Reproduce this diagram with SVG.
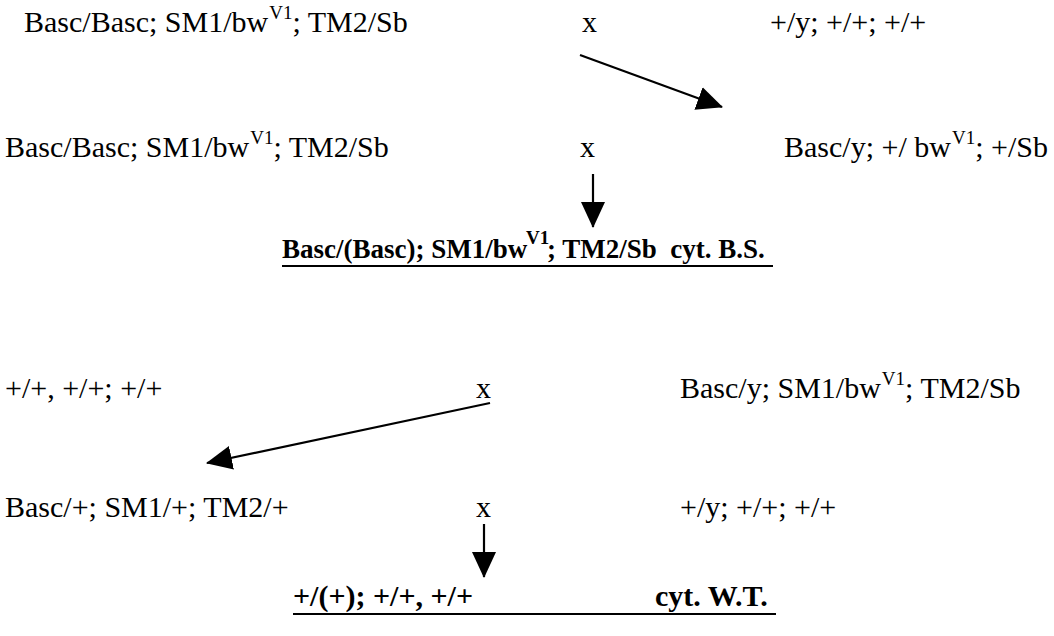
<svg xmlns="http://www.w3.org/2000/svg" width="1054" height="636" viewBox="0 0 1054 636">
  <style>
    text { font-family: "Liberation Serif", "Times New Roman", serif; font-size: 30px; fill: #000; white-space: pre; }
    .b { font-weight: bold; }
    .sup { font-size: 19px; }
    .bs { font-size: 27px; }
    .conn { stroke: #000; stroke-width: 2.2; fill: none; }
    .rule { stroke: #000; stroke-width: 2; }
  </style>
  <defs>
    <marker id="headBig" viewBox="0 0 26 24" markerWidth="26" markerHeight="24" refX="25" refY="12" orient="auto" markerUnits="userSpaceOnUse">
      <path d="M0,0 L26,12 L0,24 z" fill="#000"/>
    </marker>
  </defs>

  <rect width="1054" height="636" fill="#fff"/>

  <!-- first cross: parents -->
  <g id="p1-female"><text x="24" y="32">Basc/Basc; SM1/bw<tspan class="sup" dx="1" dy="-13">V1</tspan><tspan dy="13">; TM2/Sb</tspan></text></g>
  <g id="p1-x"><text x="582" y="32">x</text></g>
  <g id="p1-male"><text x="770" y="32">+/y; +/+; +/+</text></g>

  <!-- first cross: F1 -->
  <g id="g2-female"><text x="5" y="157">Basc/Basc; SM1/bw<tspan class="sup" dx="1" dy="-13">V1</tspan><tspan dy="13">; TM2/Sb</tspan></text></g>
  <g id="g2-x"><text x="580" y="157">x</text></g>
  <g id="g2-male"><text x="784" y="157">Basc/y; +/ bw<tspan class="sup" dx="1" dy="-13">V1</tspan><tspan dy="13">; +/Sb</tspan></text></g>

  <!-- cytotype B.S. offspring, split so the superscript stays clear of the bold run -->
  <g id="result-bs">
    <text class="b bs" x="282" y="258">Basc/(Basc); SM1/bw</text>
    <text class="b sup" x="526" y="244">V1</text>
    <text class="b bs" x="547" y="258">; TM2/Sb  cyt. B.S.</text>
    <line class="rule" x1="282" y1="266" x2="773" y2="266"/>
  </g>

  <!-- second cross: parents -->
  <g id="p2-female"><text x="5" y="398">+/+, +/+; +/+</text></g>
  <g id="p2-x"><text x="476" y="398">x</text></g>
  <g id="p2-male"><text x="680" y="398">Basc/y; SM1/bw<tspan class="sup" dx="1" dy="-13">V1</tspan><tspan dy="13">; TM2/Sb</tspan></text></g>

  <!-- second cross: F1 -->
  <g id="g4-female"><text x="5" y="517">Basc/+; SM1/+; TM2/+</text></g>
  <g id="g4-x"><text x="476" y="517">x</text></g>
  <g id="g4-male"><text x="680" y="517">+/y; +/+; +/+</text></g>

  <g id="result-wt">
    <text class="b" x="293" y="606">+/(+); +/+, +/+</text>
    <text class="b" x="655" y="606">cyt. W.T.</text>
    <line class="rule" x1="293" y1="614" x2="776" y2="614"/>
  </g>

  <g id="connectors">
    <line class="conn" x1="580" y1="55" x2="722" y2="107" marker-end="url(#headBig)"/>
    <line class="conn" x1="593" y1="174" x2="593" y2="227" marker-end="url(#headBig)"/>
    <line class="conn" x1="490" y1="403" x2="207" y2="463" marker-end="url(#headBig)"/>
    <line class="conn" x1="484" y1="524" x2="484" y2="577" marker-end="url(#headBig)"/>
  </g>
</svg>
